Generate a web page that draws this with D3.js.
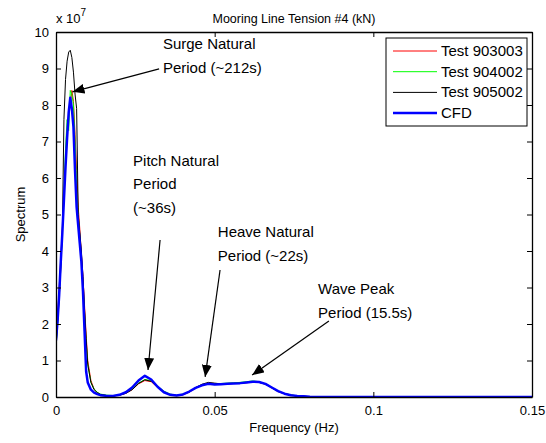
<!DOCTYPE html>
<html>
<head>
<meta charset="utf-8">
<script src="https://d3js.org/d3.v7.min.js"></script>
<style>
    body { margin: 0; background: #fff; }
    text { font-family: Arial, "Liberation Sans", Helvetica, sans-serif; fill: #000; }
    .axis path, .axis line { stroke: #000; }
</style>
</head>
<body>
<div id="chartBoxId"><svg></svg></div>
<script>
// frequency (Hz) shared by every series
var freq = [0, 0.0005, 0.001, 0.0015, 0.002, 0.0025, 0.003, 0.0035, 0.004, 0.0045,
    0.005, 0.0055, 0.006, 0.0065, 0.007, 0.0075, 0.008, 0.0085, 0.009, 0.0095,
    0.010, 0.011, 0.012, 0.013, 0.014, 0.016, 0.018, 0.020, 0.022, 0.024,
    0.026, 0.028, 0.030, 0.032, 0.034, 0.036, 0.038, 0.040, 0.042, 0.044,
    0.046, 0.048, 0.050, 0.052, 0.054, 0.056, 0.058, 0.060, 0.062, 0.064,
    0.066, 0.068, 0.070, 0.072, 0.074, 0.076, 0.078, 0.080, 0.090, 0.100,
    0.110, 0.120, 0.130, 0.140, 0.150]

// spectrum values in units of 1e7
var test903003 = [1.5, 2.2, 3.0, 3.8, 4.6, 5.5, 6.4, 7.2, 7.7, 8.0,
    8.4, 8.1, 7.2, 6.2, 5.2, 4.6, 3.9, 3.3, 2.5, 1.7,
    1.0, 0.45, 0.22, 0.12, 0.07, 0.04, 0.03, 0.05, 0.10, 0.20,
    0.36, 0.45, 0.42, 0.26, 0.13, 0.06, 0.04, 0.06, 0.13, 0.24,
    0.33, 0.38, 0.37, 0.36, 0.37, 0.38, 0.38, 0.39, 0.41, 0.40,
    0.35, 0.25, 0.15, 0.09, 0.05, 0.03, 0.02, 0.01, 0, 0,
    0, 0, 0, 0, 0]

var test904002 = [1.4, 2.0, 2.8, 3.6, 4.5, 5.6, 6.8, 7.6, 7.3, 8.4,
    8.3, 8.0, 7.0, 5.8, 5.0, 4.4, 3.8, 3.1, 2.3, 1.5,
    0.9, 0.4, 0.22, 0.13, 0.08, 0.05, 0.04, 0.06, 0.11, 0.22,
    0.38, 0.48, 0.45, 0.30, 0.16, 0.08, 0.05, 0.08, 0.14, 0.25,
    0.33, 0.36, 0.36, 0.37, 0.38, 0.39, 0.40, 0.42, 0.44, 0.42,
    0.36, 0.26, 0.16, 0.10, 0.06, 0.03, 0.02, 0.01, 0, 0,
    0, 0, 0, 0, 0]

var test905002 = [1.4, 2.0, 2.7, 3.5, 4.5, 7.6, 8.7, 9.2, 9.45, 9.5,
    9.3, 8.9, 8.3, 7.9, 5.0, 4.5, 4.0, 3.3, 2.4, 1.6,
    0.9, 0.4, 0.2, 0.12, 0.07, 0.04, 0.03, 0.05, 0.10, 0.20,
    0.37, 0.47, 0.43, 0.27, 0.13, 0.06, 0.04, 0.07, 0.14, 0.26,
    0.35, 0.40, 0.38, 0.36, 0.36, 0.37, 0.38, 0.40, 0.41, 0.40,
    0.35, 0.25, 0.15, 0.09, 0.05, 0.03, 0.02, 0.01, 0, 0,
    0, 0, 0, 0, 0]

var cfd = [1.55, 2.1, 2.8, 3.7, 4.5, 5.4, 6.3, 7.1, 7.8, 8.2,
    7.9, 7.4, 6.2, 5.2, 4.7, 4.2, 3.7, 2.9, 1.8, 0.7,
    0.4, 0.2, 0.12, 0.08, 0.05, 0.03, 0.03, 0.06, 0.13, 0.26,
    0.45, 0.58, 0.48, 0.28, 0.13, 0.06, 0.04, 0.07, 0.15, 0.25,
    0.32, 0.36, 0.34, 0.35, 0.36, 0.37, 0.38, 0.40, 0.42, 0.41,
    0.36, 0.26, 0.16, 0.09, 0.05, 0.03, 0.02, 0.01, 0, 0,
    0, 0, 0, 0, 0]

var seriesNames = ["Test 903003", "Test 904002", "Test 905002", "CFD"]
var seriesValues = [test903003, test904002, test905002, cfd]
var seriesColors = ["#ff0000", "#00ff00", "#000000", "#0000ff"]
var seriesWidths = [1, 1, 1, 2.5]

var xTicks = [0, 0.05, 0.1, 0.15]
var yTicks = [0, 1, 2, 3, 4, 5, 6, 7, 8, 9, 10]

// annotation text (in data units: left freq, first baseline value) and arrows
var noteLines = [["Surge Natural", "Period (~212s)"],
    ["Pitch Natural", "Period", "(~36s)"],
    ["Heave Natural", "Period (~22s)"],
    ["Wave Peak", "Period (15.5s)"]]
var noteText = [[0.0337, 9.53], [0.0243, 6.33], [0.051, 4.38], [0.0826, 2.82]]
var noteFrom = [[0.0325, 8.99], [0.0328, 4.3], [0.0517, 3.48], [0.086, 2.08]]
var noteTo = [[0.0052, 8.36], [0.029, 0.74], [0.047, 0.55], [0.0618, 0.6]]

var margin = {top: 32, right: 14, bottom: 46, left: 56}
var width = 546 - margin.left - margin.right
var height = 443 - margin.top - margin.bottom

function showChart() {
    var xScale = d3.scaleLinear().domain([0, 0.15]).range([0, width])
    var yScale = d3.scaleLinear().domain([0, 10]).range([height, 0])

    var line = d3.line()
        .x(function (d, i) { return xScale(freq[i]) })
        .y(function (d) { return yScale(d) })

    var root = d3.select("#chartBoxId").select("svg")
        .attr("width", 546)
        .attr("height", 443)

    root.append("defs").append("marker")
        .attr("id", "arrowHead")
        .attr("viewBox", "0 0 12 10")
        .attr("refX", 12).attr("refY", 5)
        .attr("markerWidth", 12).attr("markerHeight", 10)
        .attr("markerUnits", "userSpaceOnUse")
        .attr("orient", "auto")
        .append("path")
        .attr("d", "M0,0 L12,5 L0,10 Z")
        .attr("fill", "#000")

    var svg = root.append("g")
        .attr("transform", "translate(" + margin.left + "," + margin.top + ")")

    var clip = svg.append("clipPath").attr("id", "plotClip")
    clip.append("rect").attr("width", width).attr("height", height)

    // series
    seriesValues.forEach(function (vals, k) {
        svg.append("path")
            .datum(vals)
            .attr("clip-path", "url(#plotClip)")
            .attr("fill", "none")
            .attr("stroke", seriesColors[k])
            .attr("stroke-width", seriesWidths[k])
            .attr("stroke-linejoin", "round")
            .attr("d", line)
    })

    // axes with inward ticks on all four sides
    svg.append("g").attr("class", "x axis")
        .attr("transform", "translate(0," + height + ")")
        .call(d3.axisBottom(xScale).tickValues(xTicks).tickSizeInner(-5).tickSizeOuter(0).tickPadding(9)
            .tickFormat(function (d) { return d3.format("")(d) }))
    svg.append("g").attr("class", "x axis")
        .call(d3.axisTop(xScale).tickValues(xTicks).tickSizeInner(-5).tickSizeOuter(0).tickFormat(""))
    svg.append("g").attr("class", "y axis")
        .call(d3.axisLeft(yScale).tickValues(yTicks).tickSizeInner(-5).tickSizeOuter(0).tickPadding(7))
    svg.append("g").attr("class", "y axis")
        .attr("transform", "translate(" + width + ",0)")
        .call(d3.axisRight(yScale).tickValues(yTicks).tickSizeInner(-5).tickSizeOuter(0).tickFormat(""))

    svg.selectAll(".axis text").style("font-size", "13px")
    svg.selectAll(".axis path").attr("stroke-width", 1.3)

    svg.append("text")
        .attr("x", 0).attr("y", -9)
        .style("font-size", "13px")
        .html("x 10<tspan dy='-7' font-size='10px'>7</tspan>")

    // title and labels
    svg.append("text")
        .attr("x", width / 2).attr("y", -9)
        .attr("text-anchor", "middle")
        .style("font-size", "12.5px")
        .text("Mooring Line Tension #4 (kN)")
    svg.append("text")
        .attr("x", width / 2).attr("y", height + 35)
        .attr("text-anchor", "middle")
        .style("font-size", "13px")
        .text("Frequency (Hz)")
    svg.append("text")
        .attr("transform", "translate(" + (-31) + "," + (height / 2) + ") rotate(-90)")
        .attr("text-anchor", "middle")
        .style("font-size", "13px")
        .text("Spectrum")

    // annotations
    noteLines.forEach(function (lines, k) {
        var t = svg.append("text")
            .attr("x", xScale(noteText[k][0]))
            .attr("y", yScale(noteText[k][1]))
            .style("font-size", "15px")
        lines.forEach(function (s, j) {
            t.append("tspan")
                .attr("x", xScale(noteText[k][0]))
                .attr("dy", j == 0 ? 0 : 23.5)
                .text(s)
        })
        svg.append("line")
            .attr("x1", xScale(noteFrom[k][0])).attr("y1", yScale(noteFrom[k][1]))
            .attr("x2", xScale(noteTo[k][0])).attr("y2", yScale(noteTo[k][1]))
            .attr("stroke", "#000").attr("stroke-width", 1.2)
            .attr("marker-end", "url(#arrowHead)")
    })

    // legend
    var legend = svg.append("g").attr("transform", "translate(" + (386 - margin.left) + "," + (38 - margin.top) + ")")
    legend.append("rect")
        .attr("width", 141).attr("height", 88)
        .attr("fill", "#fff").attr("stroke", "#000").attr("stroke-width", 1)
    seriesNames.forEach(function (name, k) {
        var yy = 13 + k * 20.7
        legend.append("line")
            .attr("x1", 7).attr("x2", 51).attr("y1", yy).attr("y2", yy)
            .attr("stroke", seriesColors[k]).attr("stroke-width", seriesWidths[k])
        legend.append("text")
            .attr("x", 55).attr("y", yy + 5)
            .style("font-size", "15px")
            .text(name)
    })
}

showChart()
</script>
</body>
</html>
